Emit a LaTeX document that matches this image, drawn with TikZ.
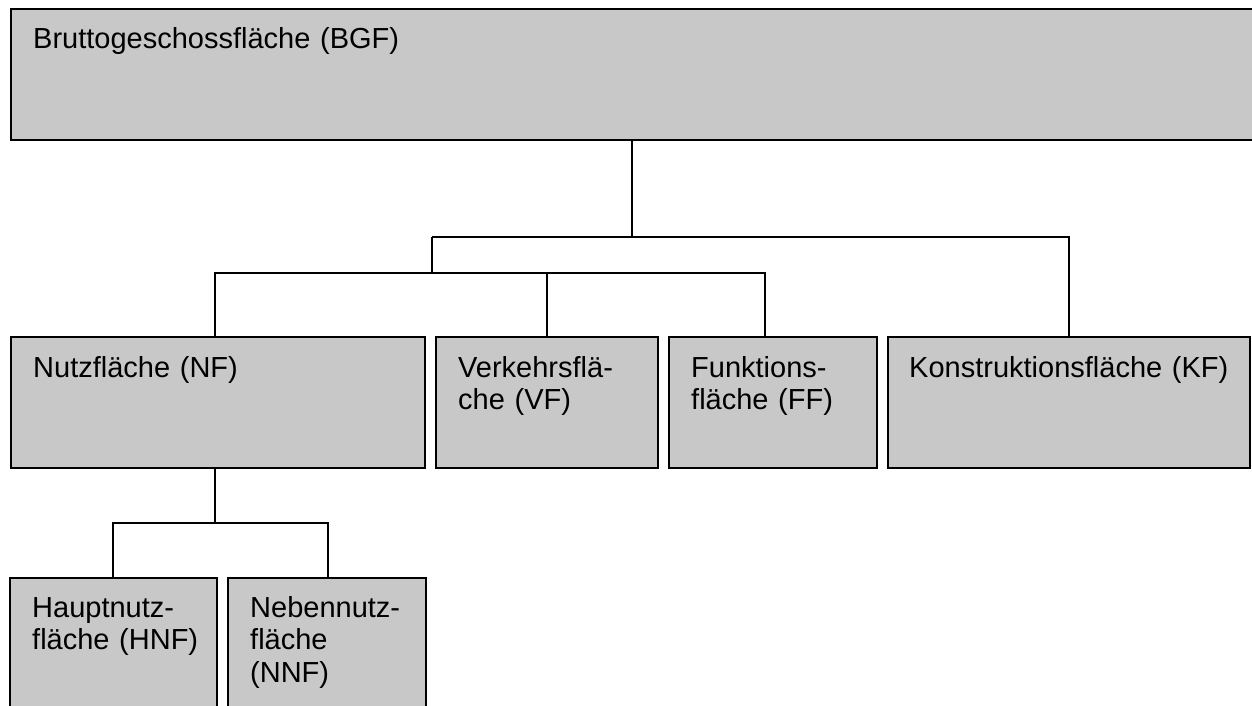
\documentclass[tikz,border=0pt]{standalone}
\usepackage{fontspec}
\setmainfont{Liberation Sans}
\definecolor{boxgray}{RGB}{200,200,200}
\begin{document}
\begin{tikzpicture}[x=1pt,y=-1pt,
  box/.style={draw=black, line width=1.5pt, fill=boxgray, inner sep=0pt, outer sep=0pt, anchor=north west},
  txt/.style={anchor=base west, inner sep=0pt, text width=380pt, align=left, font=\fontsize{29}{32.5}\selectfont, xshift=22pt},
  conn/.style={line width=1.4pt}]
\clip (0,0) rectangle (1252,705);
\fill[white] (0,0) rectangle (1252,705);
% boxes
\node[box, minimum width=1245pt, minimum height=131pt] (bgf) at (11,9) {};
\node[box, minimum width=414pt, minimum height=131pt] (nf) at (11,337) {};
\node[box, minimum width=222pt, minimum height=131pt] (vf) at (436,337) {};
\node[box, minimum width=208pt, minimum height=131pt] (ff) at (669,337) {};
\node[box, minimum width=362pt, minimum height=131pt] (kf) at (888,337) {};
\node[box, minimum width=207pt, minimum height=140pt] (hnf) at (10,578) {};
\node[box, minimum width=198pt, minimum height=140pt] (nnf) at (228,578) {};
% texts
\node[txt, yshift=-39pt] (tbgf) at (bgf.north west) {Bruttogeschossfläche (BGF)};
\node[txt, yshift=-40pt] (tnf) at (nf.north west) {Nutzfläche (NF)};
\node[txt, yshift=-40pt] (tvf) at (vf.north west) {Verkehrsflä-\\che (VF)};
\node[txt, yshift=-40pt] (tff) at (ff.north west) {Funktions-\\fläche (FF)};
\node[txt, yshift=-40pt, xshift=-1pt] (tkf) at (kf.north west) {Konstruktionsfläche (KF)};
\node[txt, yshift=-39pt] (thnf) at (hnf.north west) {Hauptnutz-\\fläche (HNF)};
\node[txt, yshift=-39pt] (tnnf) at (nnf.north west) {Nebennutz-\\fläche\\(NNF)};
% junction coordinates
\coordinate (j1) at (632,237);
\coordinate (j1l) at (432,237);
\coordinate (j1r) at (1069,237);
\coordinate (j2) at (432,273);
\coordinate (j2l) at (215,273);
\coordinate (j2m) at (547,273);
\coordinate (j2r) at (765,273);
\coordinate (j3) at (215,523);
\coordinate (j3l) at (113,523);
\coordinate (j3r) at (328,523);
% connectors
\draw[conn] (j1 |- bgf.south) -- (j1);
\draw[conn] (j1l) -- (j1r) -- (j1r |- kf.north);
\draw[conn] (j1l) -- (j2);
\draw[conn] (j2l |- nf.north) -- (j2l) -- (j2r) -- (j2r |- ff.north);
\draw[conn] (j2m) -- (j2m |- vf.north);
\draw[conn] (j3 |- nf.south) -- (j3);
\draw[conn] (j3l |- hnf.north) -- (j3l) -- (j3r) -- (j3r |- nnf.north);
\end{tikzpicture}
\end{document}
